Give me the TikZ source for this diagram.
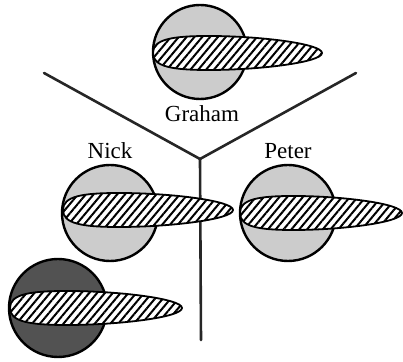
\documentclass[tikz,border=0pt]{standalone}
\usepackage{fontspec}
\setmainfont{Liberation Serif}
\newfontfamily\namefont{Liberation Serif}
\usetikzlibrary{patterns.meta}

%% tapered hatched blade: left x, centre y, length, half height
\newcommand{\paddle}[4]{%
  \draw[hatch] (#1,#2)
    .. controls +(0,-0.8*#4) and +(-0.22*#3,0) .. ++(0.33*#3,-#4)
    .. controls +(0.3*#3,0) and +(0,-0.55*#4) .. ++(0.67*#3,#4)
    .. controls +(0,0.55*#4) and +(0.3*#3,0) .. ++(-0.67*#3,#4)
    .. controls +(-0.22*#3,0) and +(0,0.8*#4) .. ++(-0.33*#3,-#4) -- cycle;}

\begin{document}
\begin{tikzpicture}[x=0.5pt, y=-0.5pt,
  lbl/.style={font=\namefont\fontsize{11.5}{13}\selectfont, anchor=base},
  head/.style={draw, line width=1.2pt, fill=black!20},
  darkhead/.style={draw, line width=1.2pt, fill=black!68},
  hatch/.style={draw, line width=0.9pt, preaction={fill=white},
    pattern={Lines[angle=50, distance=3pt, line width=1pt]}},
  wall/.style={line width=1.3pt, line cap=round, black!85}]
\useasboundingbox (0,0) rectangle (403,362);
%%── Dividing walls ───────────────────────────────────────
\coordinate (hub)  at (200,159);
\coordinate (wl)   at (44,73);
\coordinate (wr)   at (356,73);
\coordinate (wb)   at (201,340);
\draw[wall] (wl) -- (hub) -- (wr);
\draw[wall] (hub) -- (wb);
%%── Heads ────────────────────────────────────────────────
\draw[head] (200,52) circle [radius=47];
\draw[head] (110,213) circle [radius=48];
\draw[head] (288,213) circle [radius=48];
\draw[darkhead] (58,308) circle [radius=49];
%%── Blades ───────────────────────────────────────────────
\paddle{153}{53}{169}{17}
\paddle{63}{210}{170}{17}
\paddle{240}{213}{162}{17}
\paddle{10}{308}{172}{17}
%%── Names ────────────────────────────────────────────────
\node[lbl] (graham) at (202,122) {Graham};
\node[lbl] (nick)   at (110,159) {Nick};
\node[lbl] (peter)  at (288,159) {Peter};
\end{tikzpicture}
\end{document}
